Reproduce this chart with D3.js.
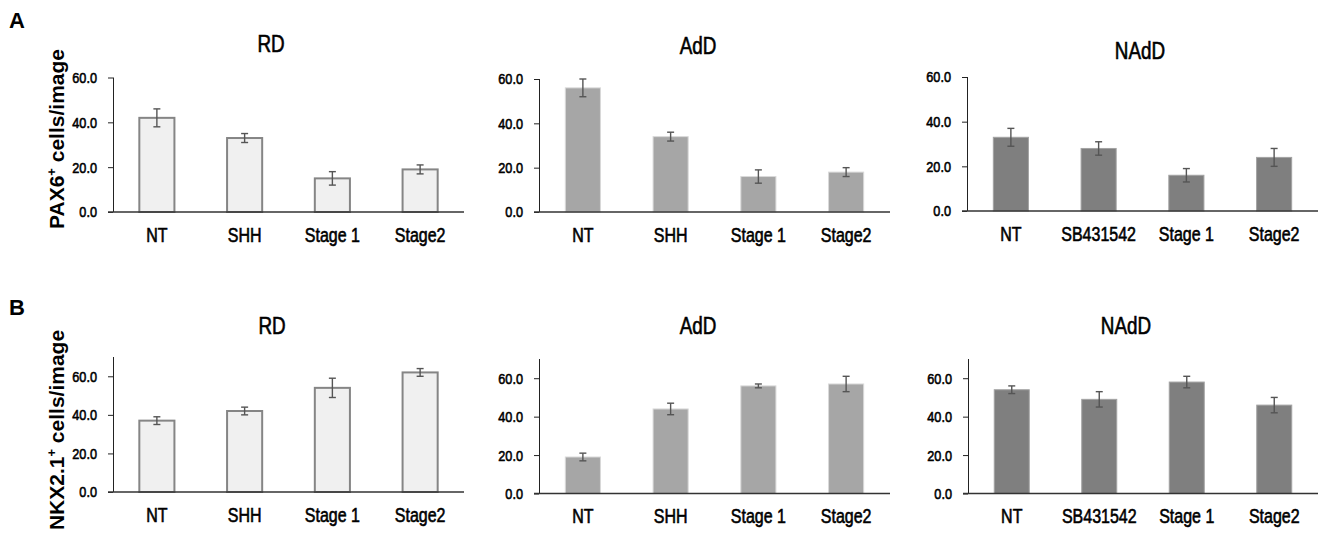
<!DOCTYPE html>
<html>
<head>
<meta charset="utf-8">
<script src="https://cdn.jsdelivr.net/npm/d3@7"></script>
<style>
  html, body { margin: 0; padding: 0; background: #fff; }
  svg { display: block; }
  .narrow { font-family: "Liberation Sans", Arial, sans-serif; stroke: #000; stroke-width: 0.6px; fill: #000; }
  .bold { font-family: "Liberation Sans", Arial, sans-serif; font-weight: bold; }
</style>
</head>
<body>
<svg id="chart" width="1321" height="544"></svg>
<script>
// ---------- data ----------
const panelTitles = ["RD", "AdD", "NAdD"];
const categoriesSHH = ["NT", "SHH", "Stage 1", "Stage2"];
const categoriesSB = ["NT", "SB431542", "Stage 1", "Stage2"];

const yTicksA = [0, 20, 40, 60];
const yTicksB = [0, 20, 40, 60];

// PAX6+ cells/image (row A)
const pax6RD = [42, 33, 15, 19];
const pax6RDErr = [4, 2, 3, 2];
const pax6AdD = [56, 34, 16, 18];
const pax6AdDErr = [4, 2, 3, 2];
const pax6NAdD = [33, 28, 16, 24];
const pax6NAdDErr = [4, 3, 3, 4];

// NKX2.1+ cells/image (row B)
const nkxRD = [37, 42, 54, 62];
const nkxRDErr = [2, 2, 5, 2];
const nkxAdD = [19, 44, 56, 57];
const nkxAdDErr = [2, 3, 1, 4];
const nkxNAdD = [54, 49, 58, 46];
const nkxNAdDErr = [2, 4, 3, 4];

// ---------- layout / styles ----------
const svg = d3.select("#chart");
const SX = 0.82; // horizontal condensing to imitate a narrow face

const styles = [
  { fill: "#f0f0f0", stroke: "#858585", sw: 2 },
  { fill: "#a6a6a6", stroke: "#d9d9d9", sw: 1 },
  { fill: "#7f7f7f", stroke: "#a3a3a3", sw: 1 }
];

const panels = [
  // row A
  { x0: 113, x1: 464, y0: 212, yTop: 77.5, dom: [0, 60], axisTop: 60, ticks: yTicksA, cats: categoriesSHH, vals: pax6RD, errs: pax6RDErr, s: 0, title: panelTitles[0], tx: 271, ty: 52 },
  { x0: 539, x1: 890, y0: 212, yTop: 79, dom: [0, 60], axisTop: 60, ticks: yTicksA, cats: categoriesSHH, vals: pax6AdD, errs: pax6AdDErr, s: 1, title: panelTitles[1], tx: 698, ty: 54 },
  { x0: 967, x1: 1318, y0: 211, yTop: 77, dom: [0, 60], axisTop: 60, ticks: yTicksA, cats: categoriesSB, vals: pax6NAdD, errs: pax6NAdDErr, s: 2, title: panelTitles[2], tx: 1140, ty: 59 },
  // row B
  { x0: 113, x1: 464, y0: 492, yTop: 357, dom: [0, 70], axisTop: 70, ticks: yTicksB, cats: categoriesSHH, vals: nkxRD, errs: nkxRDErr, s: 0, title: panelTitles[0], tx: 272, ty: 334 },
  { x0: 539, x1: 890, y0: 493.5, yTop: 359, dom: [0, 70], axisTop: 70, ticks: yTicksB, cats: categoriesSHH, vals: nkxAdD, errs: nkxAdDErr, s: 1, title: panelTitles[1], tx: 698, ty: 334 },
  { x0: 968, x1: 1318, y0: 493.5, yTop: 359, dom: [0, 70], axisTop: 70, ticks: yTicksB, cats: categoriesSB, vals: nkxNAdD, errs: nkxNAdDErr, s: 2, title: panelTitles[2], tx: 1126, ty: 334 }
];

panels.forEach(p => {
  const g = svg.append("g");
  const x = d3.scaleBand().domain(p.cats).range([p.x0, p.x1]).paddingInner(0.6).paddingOuter(0.3);
  const y = d3.scaleLinear().domain(p.dom).range([p.y0, p.yTop]);
  const st = styles[p.s];

  // bars
  g.selectAll("rect.bar").data(p.cats).enter().append("rect")
    .attr("class", "bar")
    .attr("x", d => x(d))
    .attr("width", x.bandwidth())
    .attr("y", (d, i) => y(p.vals[i]))
    .attr("height", (d, i) => y(0) - y(p.vals[i]))
    .attr("fill", st.fill)
    .attr("stroke", st.stroke)
    .attr("stroke-width", st.sw);

  // error bars
  const eb = g.selectAll("g.err").data(p.cats).enter().append("g").attr("class", "err")
    .attr("stroke", "#555").attr("stroke-width", 1.4);
  const cx = d => x(d) + x.bandwidth() / 2;
  eb.append("line")
    .attr("x1", cx).attr("x2", cx)
    .attr("y1", (d, i) => y(p.vals[i] + p.errs[i]))
    .attr("y2", (d, i) => y(p.vals[i] - p.errs[i]));
  eb.append("line")
    .attr("x1", d => cx(d) - 3.5).attr("x2", d => cx(d) + 3.5)
    .attr("y1", (d, i) => y(p.vals[i] + p.errs[i]))
    .attr("y2", (d, i) => y(p.vals[i] + p.errs[i]));
  eb.append("line")
    .attr("x1", d => cx(d) - 3.5).attr("x2", d => cx(d) + 3.5)
    .attr("y1", (d, i) => y(p.vals[i] - p.errs[i]))
    .attr("y2", (d, i) => y(p.vals[i] - p.errs[i]));

  // y axis
  const yAxis = d3.axisLeft(y).tickValues(p.ticks).tickFormat(d3.format(".1f")).tickSize(5).tickPadding(11).tickSizeOuter(0);
  const ya = g.append("g").attr("transform", `translate(${p.x0},0)`).call(yAxis);
  ya.select(".domain").attr("stroke", "#222").attr("stroke-width", 1)
    .attr("d", `M0.5,${y(p.axisTop)}V${y(0)}`);
  ya.selectAll(".tick line").attr("stroke", "#222");
  ya.selectAll(".tick text").attr("class", "narrow").attr("font-size", 15.5).attr("font-family", null)
    .attr("x", -16 / SX).attr("transform", `scale(${SX},1)`);

  // x axis
  const xAxis = d3.axisBottom(x).tickSize(0).tickPadding(16).tickSizeOuter(0);
  const xa = g.append("g").attr("transform", `translate(0,${p.y0})`).call(xAxis);
  xa.select(".domain").attr("stroke", "#333").attr("stroke-width", 1.5)
    .attr("d", `M${p.x0 - 5},0H${p.x1}`);
  xa.selectAll(".tick text").attr("class", "narrow").attr("font-size", 19.5).attr("font-family", null)
    .attr("dy", "0.71em").attr("transform", `scale(${SX},1)`);

  // title
  g.append("g").attr("transform", `translate(${p.tx},${p.ty})`)
    .append("text").attr("class", "narrow").attr("transform", `scale(${SX},1)`)
    .attr("text-anchor", "middle").attr("font-size", 23).text(p.title);
});

// panel letters
svg.append("text").attr("class", "bold").attr("x", 9).attr("y", 28).attr("font-size", 22).attr("fill", "#000").text("A");
svg.append("text").attr("class", "bold").attr("x", 9).attr("y", 315).attr("font-size", 22).attr("fill", "#000").text("B");

// y axis titles
function yTitle(cx, cy, main, rest) {
  const t = svg.append("text").attr("class", "bold")
    .attr("transform", `translate(${cx},${cy}) rotate(-90)`)
    .attr("text-anchor", "middle").attr("font-size", 21).attr("fill", "#000");
  t.append("tspan").text(main);
  t.append("tspan").attr("font-size", 13).attr("dy", -8).text("+");
  t.append("tspan").attr("dy", 8).text(rest);
}
yTitle(64, 139, "PAX6", " cells/image");
yTitle(64, 430, "NKX2.1", " cells/image");
</script>
</body>
</html>
